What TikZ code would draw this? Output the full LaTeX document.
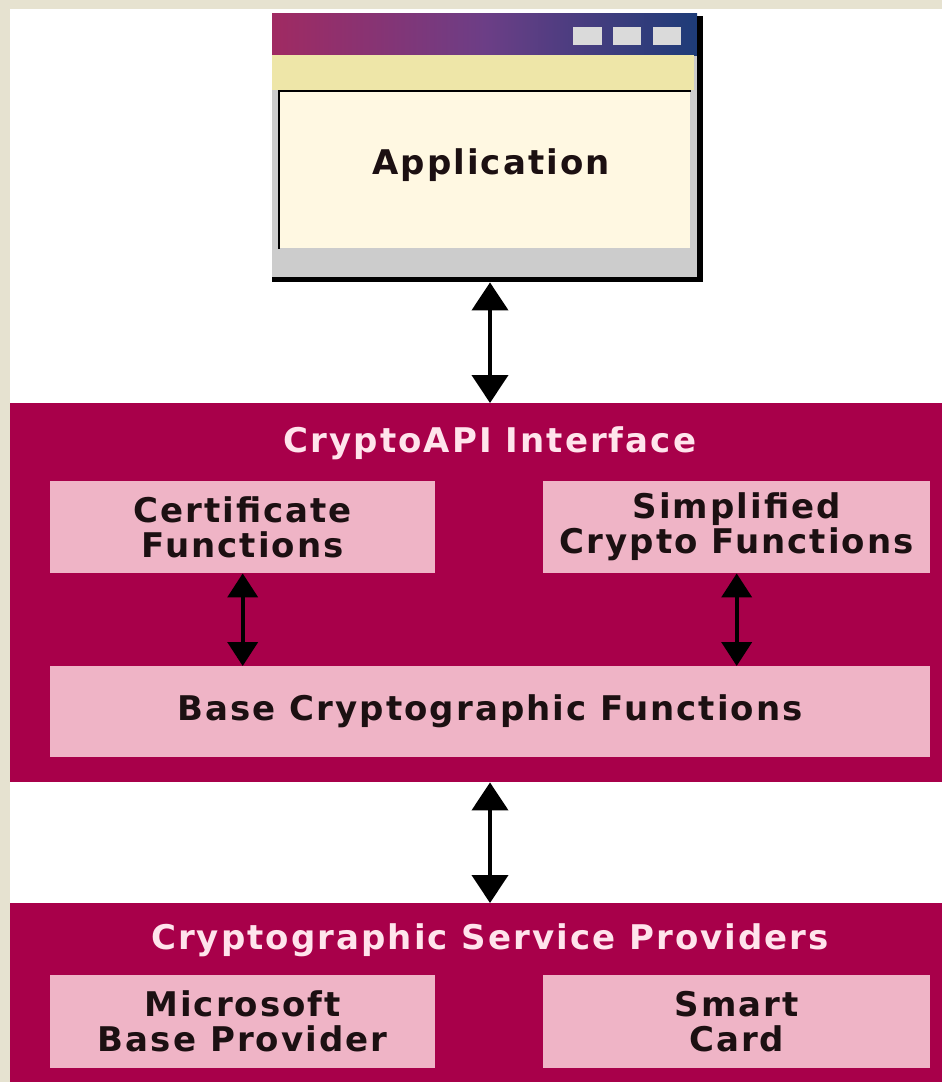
\documentclass[tikz,border=0pt]{standalone}
\usepackage{fontspec}
\usetikzlibrary{arrows.meta}
\newfontfamily\lblfont{DejaVu Sans}[LetterSpace=6]
\newcommand\lbl{\lblfont\bfseries\fontsize{34}{35}\selectfont}

\definecolor{paper}{RGB}{230,226,208}
\definecolor{crimson}{RGB}{168,0,74}
\definecolor{rose}{RGB}{239,180,198}
\definecolor{titletext}{RGB}{255,228,236}
\definecolor{ink}{RGB}{28,16,18}
\definecolor{barL}{RGB}{160,42,98}
\definecolor{barM}{RGB}{108,62,134}
\definecolor{barR}{RGB}{30,60,120}
\definecolor{menubar}{RGB}{238,230,168}
\definecolor{pane}{RGB}{255,248,226}
\definecolor{winframe}{RGB}{204,204,204}
\definecolor{btn}{RGB}{218,218,218}

\begin{document}
\begin{tikzpicture}[x=1pt,y=-1pt,
  layer/.style={fill=crimson, draw=none, inner sep=0pt, anchor=north west, minimum width=932pt},
  card/.style={fill=rose, draw=none, inner sep=0pt, anchor=north west, align=center, font=\lbl, text=ink},
  heading/.style={font=\lbl, text=titletext, inner sep=0pt},
  dbl/.style={{Triangle[length=28pt,width=36pt]}-{Triangle[length=28pt,width=36pt]}, line width=4pt, draw=black},
  dblsmall/.style={{Triangle[length=24pt,width=30pt]}-{Triangle[length=24pt,width=30pt]}, line width=4pt, draw=black}]
\useasboundingbox (0,0) rectangle (942,1082);

% page background
\fill[paper] (0,0) rectangle (942,1082);
\fill[white] (10,9) rectangle (942,1082);

% application window
\fill[winframe] (272,13) rectangle (697,277);
\shade[left color=barL, right color=barR, middle color=barM] (272,13) rectangle (697,55);
\fill[menubar] (272,55) rectangle (694,90);
\fill[pane] (278,90) rectangle (690,248);
\draw[line width=2.5pt, line cap=rect] (279,248) -- (279,91) -- (690,91);
\fill[black] (697,16) rectangle (703,282);
\fill[black] (272,277) rectangle (703,282);
\fill[btn] (573,27) rectangle (602,45);
\fill[btn] (613,27) rectangle (641,45);
\fill[btn] (653,27) rectangle (681,45);
\node[inner sep=0pt, minimum width=431pt, minimum height=269pt, anchor=north west] (app) at (272,13) {};
\node[font=\lbl, text=ink, inner sep=0pt] (applbl) at (491,165) {Application};

% layers
\node[layer, minimum height=379pt] (api) at (10,403) {};
\node[heading] (apititle) at (490,443) {CryptoAPI Interface};
\node[card, minimum width=385pt, minimum height=92pt] (cert) at (50,481) {Certificate\\Functions};
\node[card, minimum width=387pt, minimum height=92pt] (simp) at (543,481) {Simplified\\Crypto Functions};
\node[card, minimum width=880pt, minimum height=91pt] (base) at (50,666) {Base Cryptographic Functions};

\node[layer, minimum height=179pt] (csp) at (10,903) {};
\node[heading] (csptitle) at (490,940) {Cryptographic Service Providers};
\node[card, minimum width=385pt, minimum height=93pt] (ms) at (50,975) {Microsoft\\Base Provider};
\node[card, minimum width=387pt, minimum height=93pt] (sc) at (543,975) {Smart\\Card};

% connectors
\coordinate (axis) at (490,0);
\draw[dbl] (app.south -| axis) -- (api.north -| axis);
\draw[dbl] (api.south -| axis) -- (csp.north -| axis);
\draw[dblsmall] (cert.south) -- (cert.south |- base.north);
\draw[dblsmall] (simp.south) -- (simp.south |- base.north);
\end{tikzpicture}
\end{document}
